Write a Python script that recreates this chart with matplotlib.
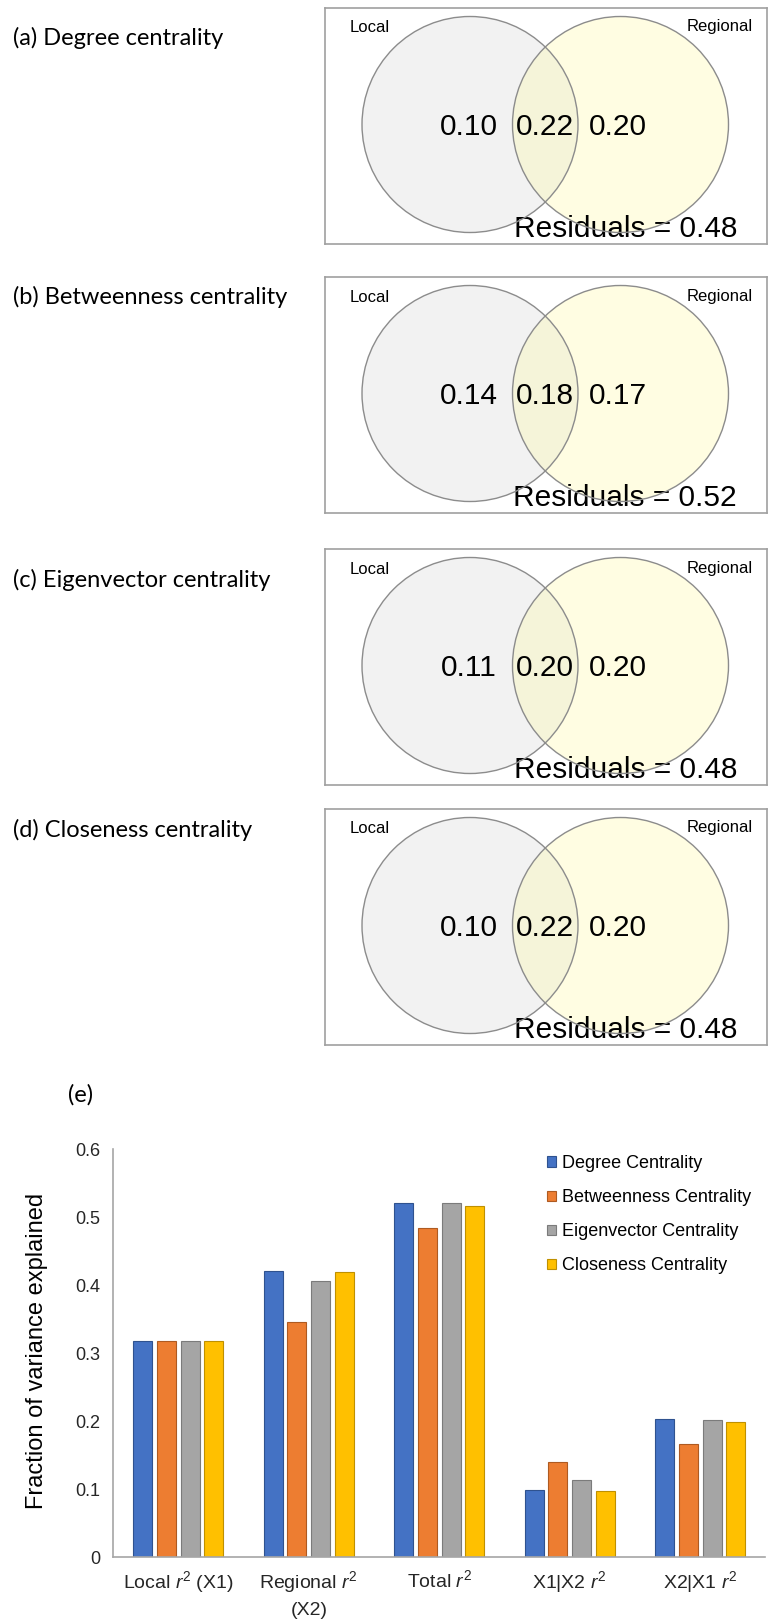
import matplotlib
matplotlib.use("Agg")
import matplotlib.pyplot as plt
import numpy as np
from matplotlib.patches import Circle

plt.rcParams['font.family'] = ['Liberation Sans', 'DejaVu Sans']
plt.rcParams['mathtext.fontset'] = 'custom'
plt.rcParams['mathtext.rm'] = 'Liberation Sans'
plt.rcParams['mathtext.it'] = 'Liberation Sans:italic'

# Venn panels: partitioned variance for each centrality measure
panel_titles = ["(a) Degree centrality", "(b) Betweenness centrality",
                "(c) Eigenvector centrality", "(d) Closeness centrality"]
local_only = [0.10, 0.14, 0.11, 0.10]
shared = [0.22, 0.18, 0.20, 0.22]
regional_only = [0.20, 0.17, 0.20, 0.20]
residuals = [0.48, 0.52, 0.48, 0.48]

# Bar panel (e)
categories = ["Local $r^2$ (X1)", "Regional $r^2$\n(X2)", "Total $r^2$",
              "X1|X2 $r^2$", "X2|X1 $r^2$"]
series_names = ["Degree Centrality", "Betweenness Centrality",
                "Eigenvector Centrality", "Closeness Centrality"]
degree = [0.317, 0.421, 0.520, 0.099, 0.203]
betweenness = [0.317, 0.345, 0.484, 0.139, 0.166]
eigenvector = [0.317, 0.406, 0.520, 0.113, 0.201]
closeness = [0.317, 0.419, 0.516, 0.097, 0.198]

W, H = 769, 1623
fig = plt.figure(figsize=(W / 100, H / 100), dpi=100)
title_font = ['Lato', 'DejaVu Sans']


def px_axes(left, top, width, height):
    """ ピクセル指定で軸を追加 """
    return fig.add_axes([left / W, 1 - (top + height) / H, width / W, height / H])


box_tops = [8, 277, 549, 809]
title_baselines = [45, 304, 587, 837]
box_w, box_h = 442, 236
r = 108

for i in range(4):
    ax = px_axes(325, box_tops[i], box_w, box_h)
    ax.set_xlim(0, box_w)
    ax.set_ylim(box_h, 0)
    ax.set_xticks([])
    ax.set_yticks([])
    for s in ax.spines.values():
        s.set_color('#a0a0a0')
        s.set_linewidth(1.2)

    # 円の塗り
    ax.add_patch(Circle((145, 116.5), r, facecolor='#f2f2f2', edgecolor='none', zorder=1))
    ax.add_patch(Circle((295.5, 116.5), r, facecolor='#fffaa0', alpha=0.3,
                        edgecolor='none', zorder=2))

    ax.text(25, 20, "Local", fontsize=12, ha='left', va='center', zorder=3)
    ax.text(428, 19, "Regional", fontsize=12, ha='right', va='center', zorder=3)
    ax.text(144, 119, f"{local_only[i]:.2f}", fontsize=21.5, ha='center', va='center', zorder=3)
    ax.text(220, 119, f"{shared[i]:.2f}", fontsize=21.5, ha='center', va='center', zorder=3)
    ax.text(293, 119, f"{regional_only[i]:.2f}", fontsize=21.5, ha='center', va='center', zorder=3)
    ax.text(412, 229, f"Residuals = {residuals[i]:.2f}", fontsize=21.5,
            ha='right', va='baseline', zorder=3)

    # 円の輪郭は文字の上に
    for cx in (145, 295.5):
        ax.add_patch(Circle((cx, 116.5), r, fill=False, edgecolor='#8c8c8c',
                            linewidth=1.0, zorder=4))

    fig.text(13 / W, 1 - title_baselines[i] / H, panel_titles[i],
             fontsize=17, family=title_font, ha='left', va='baseline')

fig.text(68 / W, 1 - 1095 / H, "(e)", fontsize=17, family=title_font,
         ha='left', va='center')

# 棒グラフ
ax = px_axes(113, 1149, 652.5, 408)
colors = ['#4472C4', '#ED7D31', '#A5A5A5', '#FFC000']
edges = ['#2f528f', '#ae5a21', '#7b7b7b', '#bf9000']
values = [degree, betweenness, eigenvector, closeness]
x = np.arange(len(categories))
pitch, width = 0.1816, 0.146
for k in range(4):
    ax.bar(x + (k - 1.5) * pitch, values[k], width, color=colors[k],
           edgecolor=edges[k], linewidth=0.8, label=series_names[k])

ax.set_xlim(-0.5, 4.5)
ax.set_ylim(0, 0.6)
ax.set_yticks([0, 0.1, 0.2, 0.3, 0.4, 0.5, 0.6])
ax.set_yticklabels(['0', '0.1', '0.2', '0.3', '0.4', '0.5', '0.6'])
ax.set_xticks(x)
ax.set_xticklabels(categories)
ax.tick_params(axis='both', length=0, colors='#262626')
ax.tick_params(axis='y', labelsize=13, pad=9)
ax.tick_params(axis='x', labelsize=14, pad=9)
for lab in ax.get_xticklabels():
    lab.set_linespacing(1.5)
for side in ('top', 'right'):
    ax.spines[side].set_visible(False)
for side in ('left', 'bottom'):
    ax.spines[side].set_color('#a6a6a6')
    ax.spines[side].set_linewidth(1.2)

ax.set_ylabel("Fraction of variance explained", fontsize=17, va='center')
ax.yaxis.set_label_coords((37 - 113) / 652.5, 0.505)

ax.legend(loc='upper left', bbox_to_anchor=((547 - 113) / 652.5, (1557 - 1155) / 408),
          frameon=False, fontsize=13, handlelength=0.5, handleheight=0.5,
          handletextpad=0.35, labelspacing=0.95, borderpad=0, borderaxespad=0)

fig.savefig("out.png", dpi=100)
